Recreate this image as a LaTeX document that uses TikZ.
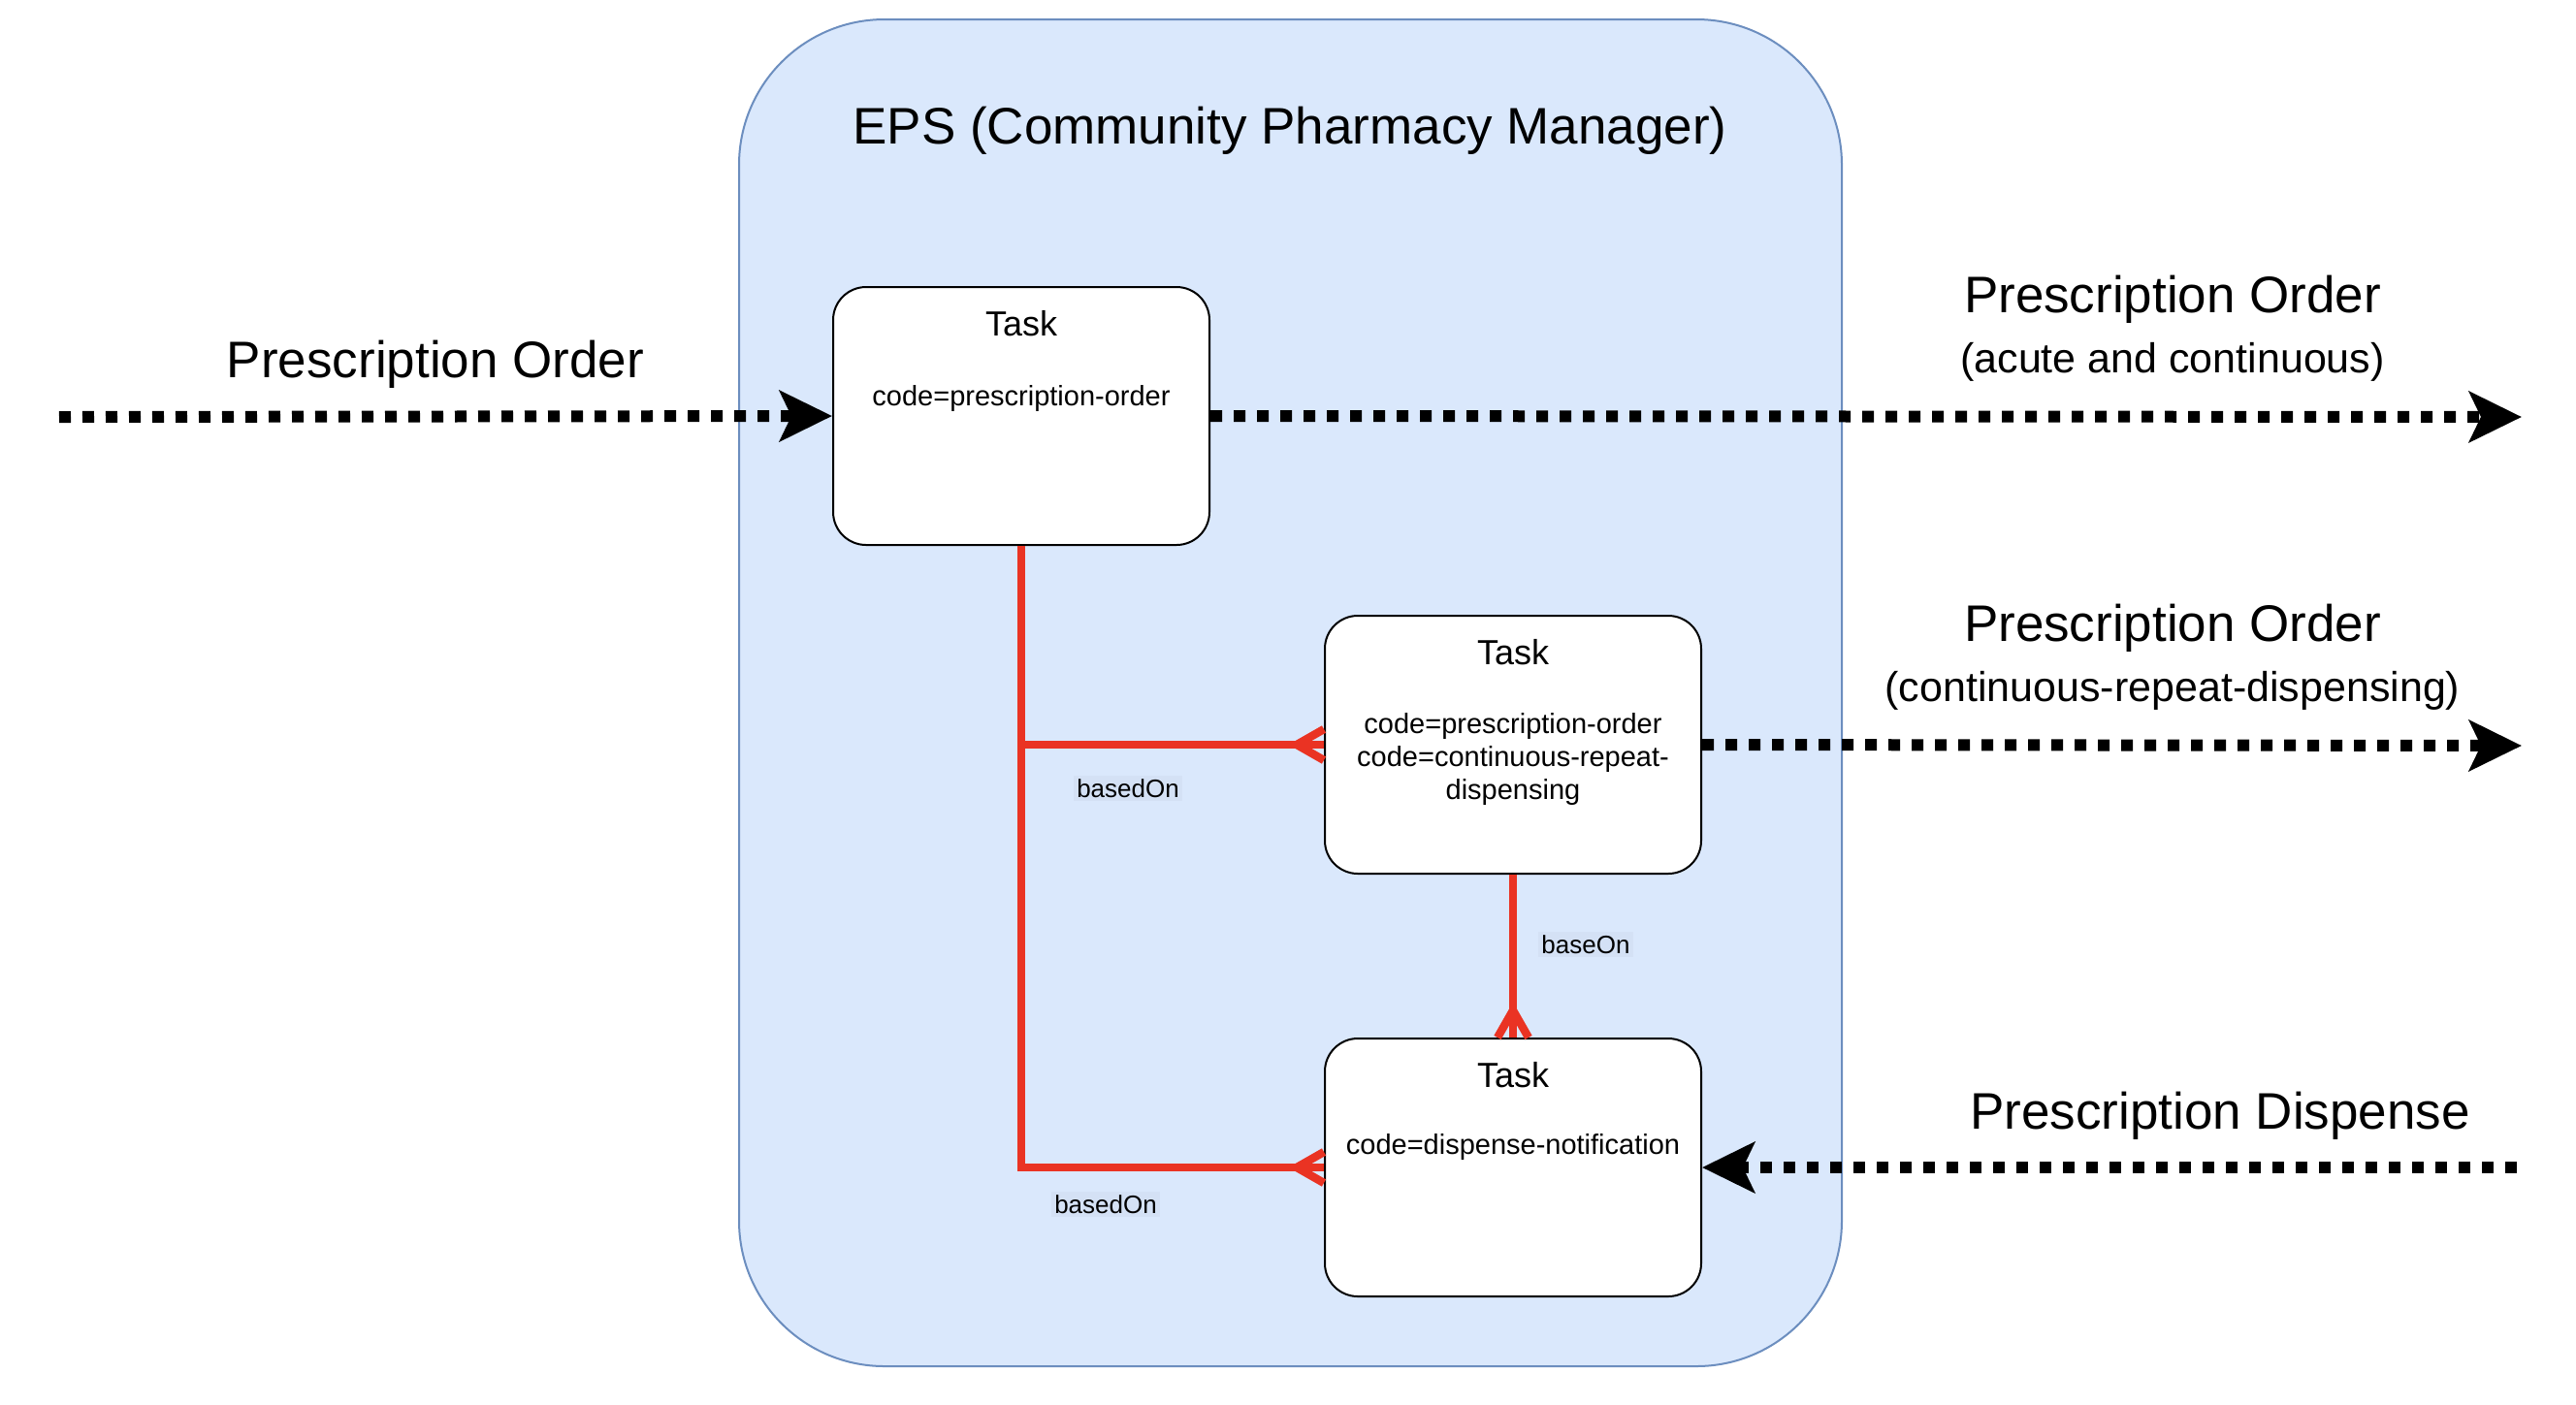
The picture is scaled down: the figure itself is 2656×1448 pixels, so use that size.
\documentclass[tikz,border=0pt]{standalone}
\usepackage{fontspec}
\setmainfont{Liberation Sans}
\usetikzlibrary{arrows.meta}
\definecolor{contfill}{HTML}{DAE8FC}
\definecolor{contdraw}{HTML}{6C8EBF}
\definecolor{lblfill}{HTML}{D4E1F5}
\definecolor{relred}{HTML}{EA3323}
\tikzset{
  taskbox/.style={draw=black, line width=1pt, fill=white, rounded corners=17pt,
    minimum width=194pt, minimum height=133pt, inner sep=0pt},
  flow/.style={line width=6pt, dash pattern=on 6pt off 6pt, black,
    -{Stealth[length=27pt,width=26pt,inset=6pt]}},
  rel/.style={line width=4.2pt, relred},
  bigtxt/.style={font=\fontsize{26.5}{32}\selectfont, inner sep=0pt},
  subtxt/.style={font=\fontsize{21.5}{26}\selectfont, inner sep=0pt},
  tasktitle/.style={font=\fontsize{18}{22}\selectfont, inner sep=0pt},
  codetxt/.style={font=\fontsize{14.5}{17}\selectfont, inner sep=0pt, align=center},
  edgelbl/.style={font=\fontsize{13}{15}\selectfont, fill=lblfill, inner sep=1.5pt}
}
\begin{document}
\begin{tikzpicture}[x=0.5pt,y=-0.5pt]
\useasboundingbox (0,0) rectangle (2656,1448);
% container
\draw[contdraw, fill=contfill, line width=1pt, rounded corners=75pt] (762,20) rectangle (1899,1409);
\node[bigtxt] (title) at (1330,135) {EPS (Community Pharmacy Manager)};
% tasks
\node[taskbox] (t1) at (1053,429) {};
\node[taskbox] (t2) at (1560,768) {};
\node[taskbox] (t3) at (1560,1204) {};
\node[tasktitle] (t1h) at (1053,334) {Task};
\node[codetxt] (t1c) at (1053,411) {code=prescription-order};
\node[tasktitle] (t2h) at (1560,673) {Task};
\node[codetxt] (t2c) at (1560,783) {code=prescription-order\\code=continuous-repeat-\\dispensing};
\node[tasktitle] (t3h) at (1560,1109) {Task};
\node[codetxt] (t3c) at (1560,1183) {code=dispense-notification};
% outer labels
\node[bigtxt] (lin) at (449,376) {Prescription Order};
\node[bigtxt] (o1) at (2240,309) {Prescription Order};
\node[subtxt] (o1s) at (2240,373) {(acute and continuous)};
\node[bigtxt] (o2) at (2240,648) {Prescription Order};
\node[subtxt] (o2s) at (2240,712) {(continuous-repeat-dispensing)};
\node[bigtxt] (o3) at (2289,1151) {Prescription Dispense};
% flow arrows
\coordinate (inStart) at (61,430);
\coordinate (out1) at (2600,430);
\coordinate (out2) at (2600,769);
\coordinate (in3) at (2595,1204);
\draw[flow] (inStart) -- (t1.west);
\draw[flow] (t1.east) -- (out1);
\draw[flow] (t2.east) -- (out2);
\draw[flow] (in3) -- (t3.east);
% relations
\coordinate (j1) at (1053,768);
\coordinate (j2) at (1053,1204);
\draw[rel, line cap=butt] (t1.south) -- (j2) -- (t3.west);
\draw[rel] (j1) -- (t2.west);
\draw[rel] (t2.south) -- (t3.north);
% crow's feet
\draw[rel] ([xshift=-14pt]t2.west) -- ([yshift=8pt]t2.west);
\draw[rel] ([xshift=-14pt]t2.west) -- ([yshift=-8pt]t2.west);
\draw[rel] ([xshift=-14pt]t3.west) -- ([yshift=8pt]t3.west);
\draw[rel] ([xshift=-14pt]t3.west) -- ([yshift=-8pt]t3.west);
\draw[rel] ([yshift=14pt]t3.north) -- ([xshift=8pt]t3.north);
\draw[rel] ([yshift=14pt]t3.north) -- ([xshift=-8pt]t3.north);
% edge labels
\node[edgelbl] (l1) at (1163,813) {basedOn};
\node[edgelbl] (l2) at (1140,1242) {basedOn};
\node[edgelbl] (l3) at (1635,974) {baseOn};
\end{tikzpicture}
\end{document}
